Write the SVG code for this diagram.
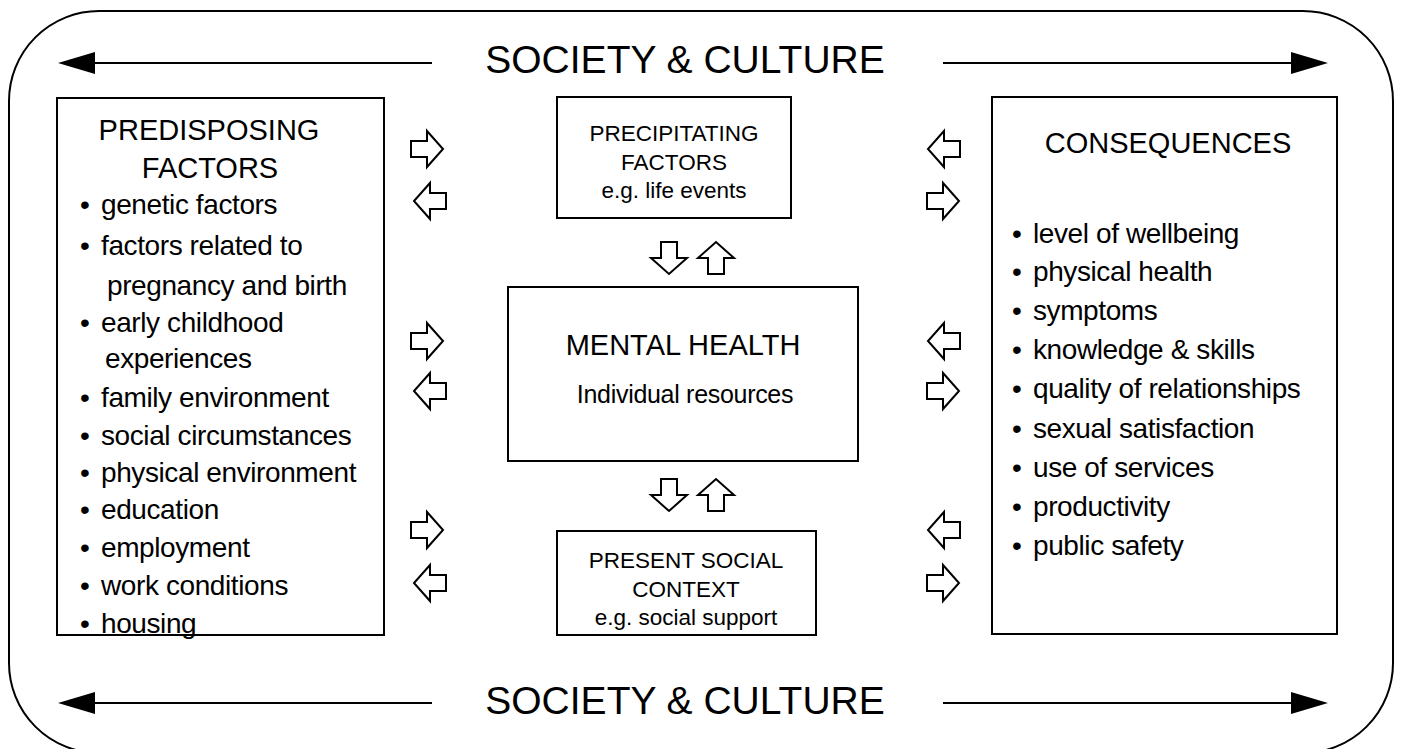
<svg xmlns="http://www.w3.org/2000/svg" xmlns:xlink="http://www.w3.org/1999/xlink" width="1402" height="749" viewBox="0 0 1402 749">
<style>
text{font-family:"Liberation Sans",Arial,sans-serif;fill:#000}
.box{fill:#fff;stroke:#000;stroke-width:2}
.frame{fill:none;stroke:#000;stroke-width:2}
.conn{stroke:#000;stroke-width:2;fill:none}
.band{font-size:39px}
.hd{font-size:29px}
.li{font-size:28px;letter-spacing:-0.4px}
.sm{font-size:22.5px}
.mh{font-size:29px}
.ir{font-size:25px;letter-spacing:-0.3px}
.blk{fill:#fff;stroke:#000;stroke-width:2;stroke-linejoin:miter}
.c{text-anchor:middle}
</style>
<defs>
<marker id="ah" viewBox="0 0 37 22" refX="25" refY="11" markerWidth="37" markerHeight="22" markerUnits="userSpaceOnUse" orient="auto">
<path d="M0,0 L37,11 L0,22 Z" fill="#000"/>
</marker>
<path id="ba" d="M-16,-8 H0 V-18 L16,0 L0,18 V8 H-16 Z"/>
</defs>

<g id="frame">
<rect class="frame" x="9" y="11" width="1384" height="742" rx="90" ry="90"/>
</g>

<g id="society-top">
<text class="band c" x="685" y="73">SOCIETY &amp; CULTURE</text>
</g>
<g id="society-bottom">
<text class="band c" x="685" y="714">SOCIETY &amp; CULTURE</text>
</g>

<g id="predisposing">
<rect class="box" x="57" y="98" width="327" height="537"/>
<text class="hd c" x="209" y="140">PREDISPOSING</text>
<text class="hd c" x="210" y="178">FACTORS</text>
<g class="li">
<text x="80" y="214">•</text><text x="101" y="214">genetic factors</text>
<text x="80" y="255">•</text><text x="101" y="255">factors related to</text>
<text x="107" y="295">pregnancy and birth</text>
<text x="80" y="332">•</text><text x="101" y="332">early childhood</text>
<text x="105" y="368">experiences</text>
<text x="80" y="407">•</text><text x="101" y="407">family environment</text>
<text x="80" y="445">•</text><text x="101" y="445">social circumstances</text>
<text x="80" y="482">•</text><text x="101" y="482">physical environment</text>
<text x="80" y="519">•</text><text x="101" y="519">education</text>
<text x="80" y="557">•</text><text x="101" y="557">employment</text>
<text x="80" y="595">•</text><text x="101" y="595">work conditions</text>
<text x="80" y="633">•</text><text x="101" y="633">housing</text>
</g>
</g>

<g id="precipitating">
<rect class="box" x="557" y="97" width="234" height="121"/>
<text class="sm c" x="674" y="141">PRECIPITATING</text>
<text class="sm c" x="674" y="170">FACTORS</text>
<text class="sm c" x="674" y="198">e.g. life events</text>
</g>

<g id="mental-health">
<rect class="box" x="508" y="287" width="350" height="174"/>
<text class="mh c" x="683" y="355">MENTAL HEALTH</text>
<text class="ir c" x="685" y="403">Individual resources</text>
</g>

<g id="present-social">
<rect class="box" x="557" y="531" width="259" height="104"/>
<text class="sm c" x="686" y="568">PRESENT SOCIAL</text>
<text class="sm c" x="686" y="597">CONTEXT</text>
<text class="sm c" x="686" y="625">e.g. social support</text>
</g>

<g id="consequences">
<rect class="box" x="992" y="97" width="345" height="537"/>
<text class="hd c" x="1168" y="153">CONSEQUENCES</text>
<g class="li">
<text x="1012" y="243">•</text><text x="1033" y="243">level of wellbeing</text>
<text x="1012" y="281">•</text><text x="1033" y="281">physical health</text>
<text x="1012" y="320">•</text><text x="1033" y="320">symptoms</text>
<text x="1012" y="359">•</text><text x="1033" y="359">knowledge &amp; skills</text>
<text x="1012" y="398">•</text><text x="1033" y="398">quality of relationships</text>
<text x="1012" y="438">•</text><text x="1033" y="438">sexual satisfaction</text>
<text x="1012" y="477">•</text><text x="1033" y="477">use of services</text>
<text x="1012" y="516">•</text><text x="1033" y="516">productivity</text>
<text x="1012" y="555">•</text><text x="1033" y="555">public safety</text>
</g>
</g>

<g id="connectors">
<line class="conn" x1="432" y1="63" x2="70" y2="63" marker-end="url(#ah)"/>
<line class="conn" x1="943" y1="63" x2="1316" y2="63" marker-end="url(#ah)"/>
<line class="conn" x1="432" y1="703" x2="70" y2="703" marker-end="url(#ah)"/>
<line class="conn" x1="943" y1="703" x2="1316" y2="703" marker-end="url(#ah)"/>

<use xlink:href="#ba" class="blk" transform="translate(427,149)"/>
<use xlink:href="#ba" class="blk" transform="translate(430,201) rotate(180)"/>
<use xlink:href="#ba" class="blk" transform="translate(427,341)"/>
<use xlink:href="#ba" class="blk" transform="translate(430,391) rotate(180)"/>
<use xlink:href="#ba" class="blk" transform="translate(427,530)"/>
<use xlink:href="#ba" class="blk" transform="translate(430,583) rotate(180)"/>

<use xlink:href="#ba" class="blk" transform="translate(944,149) rotate(180)"/>
<use xlink:href="#ba" class="blk" transform="translate(943,201)"/>
<use xlink:href="#ba" class="blk" transform="translate(944,341) rotate(180)"/>
<use xlink:href="#ba" class="blk" transform="translate(943,391)"/>
<use xlink:href="#ba" class="blk" transform="translate(944,530) rotate(180)"/>
<use xlink:href="#ba" class="blk" transform="translate(943,583)"/>

<use xlink:href="#ba" class="blk" transform="translate(669,258) rotate(90)"/>
<use xlink:href="#ba" class="blk" transform="translate(716,258) rotate(-90)"/>
<use xlink:href="#ba" class="blk" transform="translate(669,495) rotate(90)"/>
<use xlink:href="#ba" class="blk" transform="translate(716,495) rotate(-90)"/>
</g>
</svg>
